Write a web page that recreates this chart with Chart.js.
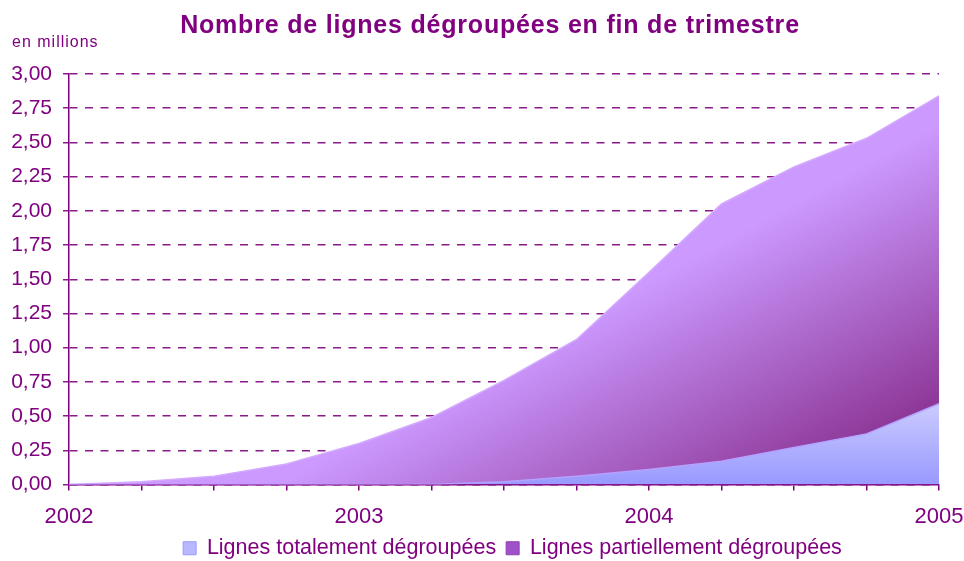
<!DOCTYPE html>
<html>
<head>
<meta charset="utf-8">
<script src="https://cdn.jsdelivr.net/npm/chart.js@4/dist/chart.umd.min.js"></script>
<style>
html,body{margin:0;padding:0;background:#fff;}
#wrap{position:relative;width:964px;height:561px;}
#title{position:absolute;left:0;width:980px;top:10px;text-align:center;font:bold 25px "Liberation Sans",Arial,sans-serif;letter-spacing:0.8px;color:#800080;}
#unit{position:absolute;left:12px;top:33px;font:16px "Liberation Sans",Arial,sans-serif;letter-spacing:1px;color:#800080;}
canvas{position:absolute;left:0;top:0;}
</style>
</head>
<body>
<div id="wrap">
<canvas id="c" width="964" height="561"></canvas>
<div id="title">Nombre de lignes dégroupées en fin de trimestre</div>
<div id="unit">en millions</div>
</div>
<script>
const categories = ['2002','','','','2003','','','','2004','','','','2005'];
const totalement = [0, 0, 0, 0, 0, 0, 0.02, 0.06, 0.11, 0.17, 0.27, 0.37, 0.59];
const partiellement = [0, 0.02, 0.06, 0.15, 0.30, 0.49, 0.74, 1.00, 1.44, 1.88, 2.05, 2.16, 2.25];
const yTicks = [0, 0.25, 0.5, 0.75, 1, 1.25, 1.5, 1.75, 2, 2.25, 2.5, 2.75, 3];

const FONT = '"Liberation Sans", Arial, sans-serif';

const purpleGrad = (ctx) => {
  const ca = ctx.chart.chartArea;
  if (!ca) return '#b070e0';
  const g = ctx.chart.ctx.createLinearGradient(
    ca.left + ca.width * 0.725, ca.top + ca.height * 0.44,
    ca.left + ca.width * 0.90, ca.top + ca.height * 1.12);
  g.addColorStop(0, '#cc99ff');
  g.addColorStop(1, '#7a1a78');
  return g;
};
const blueGrad = (ctx) => {
  const ca = ctx.chart.chartArea;
  if (!ca) return '#b0b0ff';
  const g = ctx.chart.ctx.createLinearGradient(0, ca.bottom - ca.height * 0.2, 0, ca.bottom);
  g.addColorStop(0, '#ccccff');
  g.addColorStop(1, '#9999ff');
  return g;
};

const legendShift = {
  id: 'legendShift',
  afterLayout(chart) {
    if (chart.legend) { chart.legend.left += 43; chart.legend.right += 43; }
  }
};

new Chart(document.getElementById('c'), {
  type: 'line',
  plugins: [legendShift],
  data: {
    labels: categories,
    datasets: [
      {
        label: 'Lignes totalement dégroupées',
        data: totalement,
        fill: 'origin',
        stack: 's',
        backgroundColor: blueGrad,
        borderColor: '#b4a0ff',
        borderWidth: 1.5,
        pointRadius: 0,
        tension: 0
      },
      {
        label: 'Lignes partiellement dégroupées',
        data: partiellement,
        fill: '-1',
        stack: 's',
        backgroundColor: purpleGrad,
        borderColor: '#d4aaff',
        borderWidth: 1.5,
        pointRadius: 0,
        tension: 0
      }
    ]
  },
  options: {
    responsive: false,
    animation: false,
    layout: { padding: { top: 74, right: 25, left: 0, bottom: -8 } },
    plugins: {
      tooltip: { enabled: false },
      legend: {
        position: 'bottom',
        labels: {
          color: '#800080',
          font: { family: FONT, size: 21.5 },
          boxWidth: 13,
          boxHeight: 13,
          padding: 10,
          generateLabels: (chart) => chart.data.datasets.map((d, i) => ({
            text: d.label,
            fillStyle: i === 0 ? '#b8b8ff' : '#a050c8',
            strokeStyle: i === 0 ? '#9999ff' : '#9040b0',
            lineWidth: 1,
            fontColor: '#800080',
            datasetIndex: i
          }))
        }
      }
    },
    scales: {
      x: {
        stacked: true,
        offset: false,
        afterFit: (s) => { s.paddingLeft = 0; s.paddingRight = 0; s.height = 43; },
        grid: { drawOnChartArea: false, drawTicks: true, tickLength: 6, color: '#800080', lineWidth: 1.5 },
        border: { color: '#800080', width: 1.5 },
        ticks: {
          autoSkip: false, maxRotation: 0, padding: 13,
          color: '#800080',
          font: { family: FONT, size: 22 }
        }
      },
      y: {
        stacked: true,
        min: 0, max: 3,
        afterFit: (s) => { s.width = 69; },
        afterBuildTicks: (s) => { s.ticks = yTicks.map(v => ({ value: v })); },
        grid: { color: '#8a1a8a', lineWidth: 1.5, tickLength: 6 },
        border: { color: '#800080', width: 1.5, dash: [8, 7.5] },
        ticks: {
          padding: 11,
          color: '#800080',
          font: { family: FONT, size: 21 },
          callback: (v) => Number(v).toFixed(2).replace('.', ',')
        }
      }
    }
  }
});
</script>
</body>
</html>
